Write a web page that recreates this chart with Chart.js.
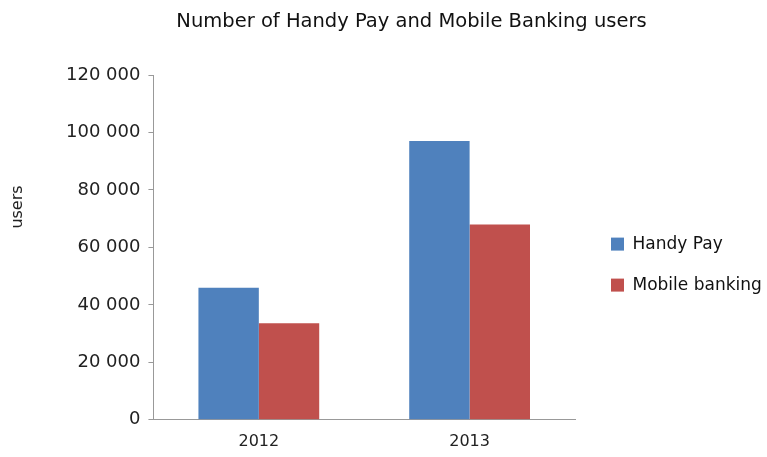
<!DOCTYPE html>
<html><head><meta charset="utf-8">
<script src="https://cdn.jsdelivr.net/npm/chart.js@4"></script>
<style>html,body{margin:0;padding:0;background:#fff}#wrap{width:767px;height:457px}</style>
</head><body><div id="wrap"><canvas id="c"></canvas></div>
<script>
const categories = ['2012', '2013'];
const handyPay = [46000, 97000];
const mobileBanking = [33600, 68000];
const seriesNames = ['Handy Pay', 'Mobile banking'];
const yTicks = [0, 20000, 40000, 60000, 80000, 100000, 120000];
const FONT = '"DejaVu Sans", sans-serif';
const fmt = v => String(v).replace(/\B(?=(\d{3})+(?!\d))/g, ' ');

const yTitlePlugin = {
  id: 'yTitle',
  afterDraw(chart) {
    const ctx = chart.ctx;
    ctx.save();
    ctx.translate(18, 207);
    ctx.rotate(-Math.PI / 2);
    ctx.font = '16px ' + FONT;
    ctx.fillStyle = '#222';
    ctx.textAlign = 'center';
    ctx.textBaseline = 'middle';
    ctx.fillText('users', 0, 0);
    ctx.restore();
  }
};

// fixes the legend box width so the plot area ends where the reference's does
const legendWidthPlugin = {
  id: 'legendWidth',
  beforeLayout(chart) {
    const lg = chart.legend;
    if (lg && !lg._fixedWidth) {
      const fit = lg.fit;
      lg.fit = function () { fit.call(this); this.width = 178; };
      lg._fixedWidth = true;
    }
  }
};

new Chart(document.getElementById('c'), {
  type: 'bar',
  data: {
    labels: categories,
    datasets: [
      { label: seriesNames[0], data: handyPay, backgroundColor: '#4F81BD', borderWidth: 0 },
      { label: seriesNames[1], data: mobileBanking, backgroundColor: '#C0504D', borderWidth: 0 }
    ]
  },
  options: {
    responsive: true, maintainAspectRatio: false, animation: false,
    layout: { padding: { left: 58, right: 2, top: 0, bottom: 0 } },
    datasets: { bar: { barPercentage: 1, categoryPercentage: 0.573 } },
    plugins: {
      title: { display: true, text: 'Number of Handy Pay and Mobile Banking users', color: '#111',
        font: { family: FONT, size: 19.5, weight: 'normal' }, padding: { top: 10, bottom: 41.6 } },
      legend: { position: 'right', align: 'center',
        title: { display: true, text: ' ', padding: { top: 71, bottom: 0 }, font: { size: 1 } },
        labels: { boxWidth: 13, boxHeight: 13, padding: 24, color: '#111', font: { family: FONT, size: 17 } } },
      tooltip: { enabled: false }
    },
    scales: {
      x: {
        grid: { display: true, drawOnChartArea: false, drawTicks: false },
        border: { display: true, color: '#999' },
        ticks: { color: '#222', font: { family: FONT, size: 16 }, padding: 12 },
        afterFit: s => { s.height = s.height - 6; }
      },
      y: {
        min: 0, max: 120000,
        afterBuildTicks: s => { s.ticks = yTicks.map(v => ({ value: v })); },
        grid: { display: true, drawOnChartArea: false, drawTicks: true, tickLength: 5, color: '#999' },
        border: { display: true, color: '#999' },
        ticks: { color: '#222', font: { family: FONT, size: 18 }, padding: 8, callback: v => fmt(v) }
      },
      spacer: {
        type: 'linear', position: 'right', display: true,
        grid: { display: false, drawTicks: false }, border: { display: false },
        ticks: { display: false },
        afterFit: s => { s.width = 12; }
      }
    }
  },
  plugins: [yTitlePlugin, legendWidthPlugin]
});
</script></body></html>
